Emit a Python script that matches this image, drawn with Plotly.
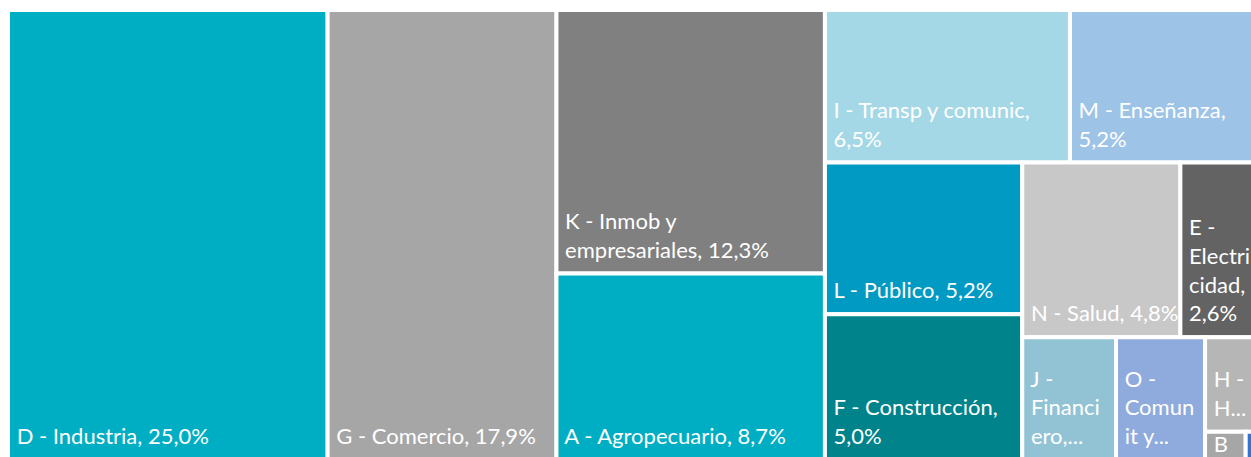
import plotly.graph_objects as go

labels = ["D - Industria", "G - Comercio", "K - Inmob y empresariales", "A - Agropecuario",
          "I - Transp y comunic", "M - Enseñanza", "L - Público", "F - Construcción",
          "N - Salud", "E - Electricidad", "J - Financiero", "O - Comunit y soc",
          "H - Hoteles", "B - Pesca", "C - Minería"]
values = [25.0, 17.9, 12.3, 8.7, 6.5, 5.2, 5.2, 5.0, 4.8, 2.6, 2.0, 1.9, 1.0, 0.2, 0.1]
display = ["D - Industria, 25,0%", "G - Comercio, 17,9%", "K - Inmob y<br>empresariales, 12,3%",
           "A - Agropecuario, 8,7%", "I - Transp y comunic,<br>6,5%", "M - Enseñanza,<br>5,2%",
           "L - Público, 5,2%", "F - Construcción,<br>5,0%", "N - Salud, 4,8%",
           "E -<br>Electri<br>cidad,<br>2,6%", "J -<br>Financi<br>ero,...", "O -<br>Comun<br>it y...",
           "H -<br>H...", "B", "C"]
colors = ["#00AEC4", "#A6A6A6", "#808080", "#00AEC4", "#A5D8E6", "#9DC3E6", "#009AC3",
          "#00838A", "#C8C8C8", "#636363", "#92C3D5", "#8FAADC", "#B6B6B6", "#A6A6A6", "#2E75D6"]

root = "Total"
ids = [root] + labels
parents = [""] + [root] * len(labels)
vals = [0] + values
# small left indent on each line, like the original labels
texts = [""] + ["<br>".join("\u00a0" + ln for ln in t.split("<br>")) for t in display]
cols = ["white"] + colors

fig = go.Figure(go.Treemap(
    ids=ids,
    labels=ids,
    parents=parents,
    values=vals,
    branchvalues="remainder",
    text=texts,
    texttemplate="%{text}",
    textposition="bottom left",
    textfont=dict(family="Lato", size=22, color="white"),
    marker=dict(colors=cols, line=dict(color="white", width=4),
                pad=dict(t=0, l=0, r=0, b=0)),
    sort=True,
    tiling=dict(packing="squarify", pad=0),
    pathbar=dict(visible=False),
    hoverinfo="label+value",
))

fig.update_layout(
    width=1266, height=460,
    margin=dict(l=8, r=0, t=10, b=0),
    paper_bgcolor="white",
    uniformtext=dict(minsize=22, mode="show"),
)

# lift the labels a little off the tile bottoms (except the tiny one-letter tiles)
post = (
    "document.body.style.margin='0';document.body.style.overflow='hidden';"
    "document.querySelectorAll('text.slicetext').forEach(function(t){"
    "if((t.textContent||'').trim().length>2){"
    "t.setAttribute('transform',(t.getAttribute('transform')||'')+' translate(0,-8)');}});"
)
fig.write_html("out.html", config={"displayModeBar": False}, post_script=post)
